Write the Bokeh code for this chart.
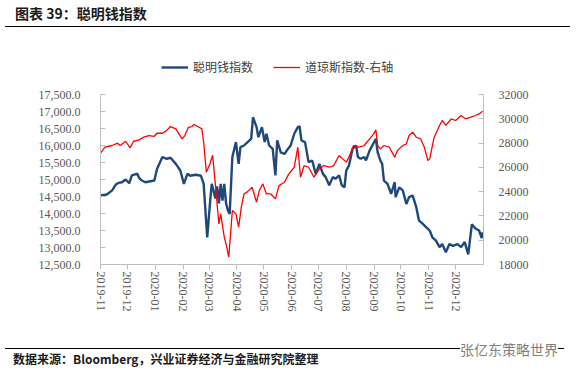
import math
import pandas as pd
from bokeh.plotting import figure
from bokeh.models import (Range1d, LinearAxis, FixedTicker, SingleIntervalTicker,
                          NumeralTickFormatter, DatetimeTickFormatter, Legend, LegendItem,
                          ColumnDataSource, Div)
from bokeh.layouts import column
from bokeh.embed import file_html
from bokeh.resources import INLINE

# ---------------- data ----------------
title_text = "图表 39：聪明钱指数"
source_text = "数据来源：Bloomberg，兴业证券经济与金融研究院整理"
watermark_text = "张亿东策略世界"
smart_name = "聪明钱指数"
dow_name = "道琼斯指数-右轴"

tick_labels = ["2019-11", "2019-12", "2020-01", "2020-02", "2020-03", "2020-04", "2020-05",
               "2020-06", "2020-07", "2020-08", "2020-09", "2020-10", "2020-11", "2020-12"]

smart_dates = [
    "2019-11-01", "2019-11-08", "2019-11-14", "2019-11-18", "2019-11-21", "2019-11-25", "2019-11-29",
    "2019-12-03", "2019-12-06", "2019-12-12", "2019-12-14", "2019-12-17", "2019-12-21", "2019-12-31",
    "2020-01-03", "2020-01-09", "2020-01-14", "2020-01-18", "2020-01-24", "2020-01-29",
    "2020-02-02", "2020-02-06", "2020-02-09", "2020-02-15", "2020-02-21", "2020-02-24", "2020-02-28",
    "2020-03-02", "2020-03-04", "2020-03-06", "2020-03-08", "2020-03-10", "2020-03-12", "2020-03-14",
    "2020-03-16", "2020-03-18", "2020-03-20", "2020-03-22", "2020-03-24", "2020-03-27", "2020-03-31",
    "2020-04-03", "2020-04-05", "2020-04-09", "2020-04-13", "2020-04-17", "2020-04-19", "2020-04-23",
    "2020-04-25", "2020-04-29", "2020-05-02", "2020-05-04", "2020-05-07", "2020-05-11", "2020-05-14",
    "2020-05-16", "2020-05-20", "2020-05-24", "2020-05-28", "2020-05-31", "2020-06-04", "2020-06-08",
    "2020-06-10", "2020-06-12", "2020-06-16", "2020-06-20", "2020-06-24", "2020-06-28", "2020-07-02",
    "2020-07-06", "2020-07-09", "2020-07-13", "2020-07-17", "2020-07-20", "2020-07-24", "2020-07-27",
    "2020-07-30", "2020-08-01", "2020-08-04", "2020-08-08", "2020-08-12", "2020-08-14", "2020-08-17",
    "2020-08-21", "2020-08-23", "2020-08-27", "2020-08-30", "2020-09-03", "2020-09-05", "2020-09-08",
    "2020-09-10", "2020-09-12", "2020-09-16", "2020-09-20", "2020-09-24", "2020-09-25", "2020-09-29",
    "2020-10-03", "2020-10-07", "2020-10-10", "2020-10-14", "2020-10-18", "2020-10-21", "2020-10-25",
    "2020-10-29", "2020-11-02", "2020-11-05", "2020-11-09", "2020-11-13", "2020-11-16", "2020-11-20",
    "2020-11-24", "2020-11-28", "2020-12-03", "2020-12-07", "2020-12-11", "2020-12-15", "2020-12-19",
    "2020-12-23", "2020-12-27", "2020-12-30", "2020-12-31"]
smart_values = [
    14530, 14560, 14680, 14850, 14900, 14920, 15000,
    14890, 15120, 15170, 15050, 14970, 14920, 14970,
    15310, 15660, 15610, 15640, 15460, 15265,
    14870, 15170, 15110, 15140, 15110, 14870, 13300,
    14280, 14870, 14680, 14440, 14800, 14300, 14870,
    14380, 14870, 14300, 14090, 13990, 15660, 16100,
    15460, 15950, 16000, 16100, 16195, 16830, 16540,
    16245, 16540, 16100, 16345, 16000, 15900, 15120,
    16150, 15800, 15750, 15900, 16000, 16345, 16540,
    16560, 16150, 16100, 15510, 15560, 15165, 15460,
    15165, 15070, 14830, 15070, 15020, 15120, 14830,
    14770, 15265, 15410, 15900, 16000, 15660, 15610,
    15660, 15560, 15850, 16000, 16195, 15800, 15560,
    15460, 14970, 14870, 14580, 14920, 14480, 14770,
    14680, 14280, 14480, 14530, 14190, 13800, 13700,
    13600, 13500, 13300, 13200, 13010, 13100, 12860,
    13100, 13050, 13100, 13010, 13160, 12800, 13680,
    13560, 13500, 13280, 13450]

dow_dates = [
    "2019-11-01", "2019-11-06", "2019-11-14", "2019-11-20", "2019-11-23", "2019-11-29",
    "2019-12-04", "2019-12-08", "2019-12-14", "2019-12-19", "2019-12-25", "2019-12-31",
    "2020-01-03", "2020-01-09", "2020-01-13", "2020-01-18", "2020-01-24", "2020-01-31",
    "2020-02-03", "2020-02-07", "2020-02-11", "2020-02-13", "2020-02-19", "2020-02-22", "2020-02-24",
    "2020-02-27", "2020-03-02", "2020-03-05", "2020-03-08", "2020-03-12", "2020-03-14", "2020-03-18",
    "2020-03-20", "2020-03-23", "2020-03-27", "2020-03-31", "2020-04-03", "2020-04-06", "2020-04-09",
    "2020-04-13", "2020-04-18", "2020-04-23", "2020-04-26", "2020-04-30", "2020-05-04", "2020-05-09",
    "2020-05-14", "2020-05-18", "2020-05-24", "2020-05-29", "2020-06-04", "2020-06-08", "2020-06-11",
    "2020-06-15", "2020-06-20", "2020-06-26", "2020-07-02", "2020-07-07", "2020-07-13", "2020-07-18",
    "2020-07-24", "2020-07-28", "2020-08-01", "2020-08-04", "2020-08-09", "2020-08-15", "2020-08-21",
    "2020-08-27", "2020-08-31", "2020-09-03", "2020-09-05", "2020-09-08", "2020-09-12", "2020-09-18",
    "2020-09-24", "2020-09-27", "2020-10-03", "2020-10-07", "2020-10-10", "2020-10-14", "2020-10-18",
    "2020-10-23", "2020-10-27", "2020-10-31", "2020-11-02", "2020-11-07", "2020-11-13", "2020-11-16",
    "2020-11-20", "2020-11-26", "2020-12-01", "2020-12-07", "2020-12-12", "2020-12-18", "2020-12-23",
    "2020-12-27", "2020-12-31"]
dow_values = [
    27165, 27660, 27800, 27990, 27800, 28150,
    27600, 28150, 28260, 28480, 28620, 28560,
    28810, 28810, 28980, 29360, 29170, 28340,
    28620, 29300, 29360, 29530, 29300, 29170, 28070,
    25600, 26280, 27000, 24640, 21340, 22170, 20245,
    19700, 18600, 22440, 22170, 21070, 22720, 23810,
    24000, 24360, 23130, 24090, 24640, 23810, 23810,
    23400, 24500, 24770, 25460, 26010, 27660, 25190,
    26150, 26010, 25190, 25870, 26150, 26010, 26150,
    26980, 26700, 26430, 26840, 27800, 27660, 27800,
    28340, 28700, 29090, 27800, 27520, 27800, 27660,
    26840, 27380, 27800, 27930, 28620, 28900, 28480,
    28340, 27660, 26560, 26700, 28480, 29450, 29860,
    29450, 30000, 29860, 30270, 30000, 30130, 30270,
    30400, 30620]

left_bounds = (12500, 17500)
right_bounds = (18000, 32000)

# ---------------- styling ----------------
W = 565
CJK = "Noto Sans CJK SC"
SERIF = "Liberation Serif"
AXIS_GREY = "#bfbfbf"
LABEL_GREY = "#595959"
BLUE = "#1F497D"
RED = "#FF0000"

# frame: 210 px tall, of which the lower 170 px carry the axes; the upper 40 px hold the legend
AXIS_PX, FRAME_PX = 170, 210
head_frac = (FRAME_PX - AXIS_PX) / AXIS_PX
left_top = left_bounds[1] + (left_bounds[1] - left_bounds[0]) * head_frac
right_top = right_bounds[1] + (right_bounds[1] - right_bounds[0]) * head_frac

smart = ColumnDataSource(dict(d=pd.to_datetime(smart_dates), v=smart_values))
dow = ColumnDataSource(dict(d=pd.to_datetime(dow_dates), v=dow_values))

p = figure(width=W, height=295, x_axis_type="datetime",
           x_range=Range1d(pd.Timestamp("2019-11-01"), pd.Timestamp("2021-01-01")),
           y_range=Range1d(left_bounds[0], left_top), output_backend="svg", toolbar_location=None,
           min_border_left=100, min_border_right=82, min_border_top=14, min_border_bottom=71)
p.grid.visible = False
p.outline_line_color = None
p.extra_y_ranges = {"dow": Range1d(right_bounds[0], right_top)}

r_smart = p.line("d", "v", source=smart, line_color=BLUE, line_width=2.4)
r_dow = p.line("d", "v", source=dow, line_color=RED, line_width=1.3, y_range_name="dow")

# x axis (labels read top-to-bottom)
xa = p.xaxis[0]
xa.ticker = FixedTicker(ticks=[pd.Timestamp(t + "-01").value / 1e6 for t in tick_labels])
fmt = "%Y-%m"
xa.formatter = DatetimeTickFormatter(days=fmt, months=fmt, years=fmt, hours=fmt, minutes=fmt)
xa.major_label_orientation = -math.pi / 2
xa.major_tick_out = 5
xa.major_tick_in = 0
xa.minor_tick_line_color = None
xa.axis_line_color = AXIS_GREY
xa.major_tick_line_color = AXIS_GREY
xa.major_label_text_font = SERIF
xa.major_label_text_font_size = "12px"
xa.major_label_text_color = LABEL_GREY
xa.major_label_standoff = 2

# left axis
ya = p.yaxis[0]
ya.ticker = SingleIntervalTicker(interval=500)
ya.formatter = NumeralTickFormatter(format="0,0.0")
ya.bounds = left_bounds

ra = LinearAxis(y_range_name="dow", ticker=SingleIntervalTicker(interval=2000),
                formatter=NumeralTickFormatter(format="0"), bounds=right_bounds)
p.add_layout(ra, "right")

for ax, standoff in ((ya, 16), (ra, 11)):
    ax.major_tick_in = 5
    ax.major_tick_out = 0
    ax.minor_tick_line_color = None
    ax.axis_line_color = AXIS_GREY
    ax.major_tick_line_color = AXIS_GREY
    ax.major_label_text_font = SERIF
    ax.major_label_text_font_size = "12px"
    ax.major_label_text_color = LABEL_GREY
    ax.major_label_standoff = standoff

legend = Legend(items=[LegendItem(label=smart_name, renderers=[r_smart]),
                       LegendItem(label=dow_name, renderers=[r_dow])],
                orientation="horizontal", location=(61, 189),
                glyph_width=27, glyph_height=14, label_height=14, label_standoff=5,
                spacing=20, padding=0, margin=0, border_line_color=None,
                background_fill_alpha=0,
                label_text_font=CJK, label_text_font_size="12px", label_text_color="#404040")
p.add_layout(legend, "center")

# header and footer
head = Div(width=W, height=30, text=(
    '<div style="position:relative;width:565px;height:30px;">'
    '<span style="position:absolute;left:10px;top:0px;font-family:\'Noto Sans CJK SC\';'
    'font-weight:bold;font-size:14px;line-height:16px;color:#1a1a1a;white-space:nowrap;">'
    + title_text + '</span>'
    '<div style="position:absolute;left:0px;top:21px;width:565px;height:0px;'
    'border-top:1.5px solid #000;"></div></div>'))

foot = Div(width=W, height=28, text=(
    '<div style="position:relative;width:565px;height:28px;">'
    '<div style="position:absolute;left:0px;top:8px;width:559px;height:0px;'
    'border-top:1.5px solid #000;"></div>'
    '<span style="position:absolute;left:8px;top:11px;font-family:\'Noto Sans CJK SC\';'
    'font-weight:bold;font-size:12px;line-height:16px;color:#1a1a1a;white-space:nowrap;">'
    + source_text + '</span>'
    '<span style="position:absolute;left:455px;top:0px;font-family:\'Noto Sans CJK SC\';'
    'font-size:14px;line-height:18px;color:#7f7f7f;background:#fff;white-space:nowrap;">'
    + watermark_text + '</span></div>'))

layout = column(head, p, foot, spacing=0)
open("out.html", "w").write(file_html(layout, INLINE))
